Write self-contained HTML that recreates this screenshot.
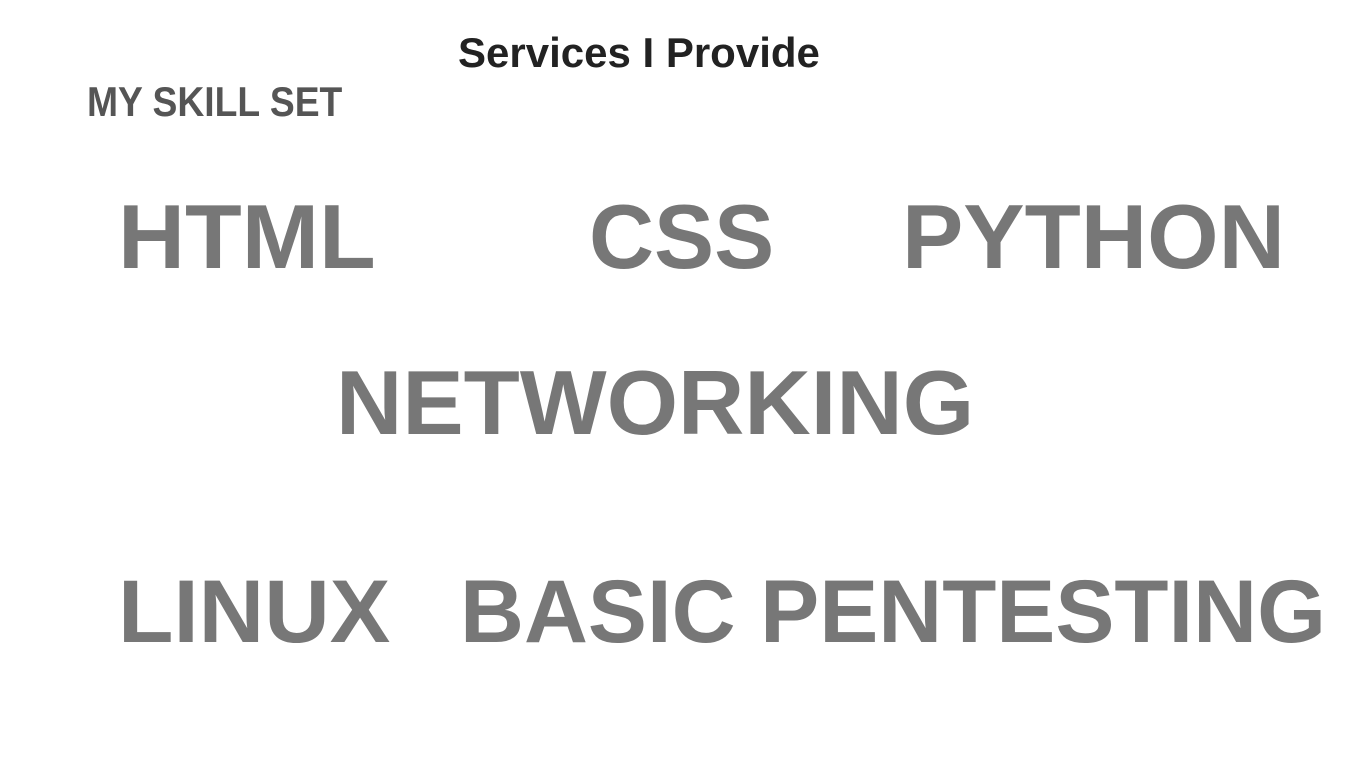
<!DOCTYPE html>
<html><head><meta charset="utf-8"><style>
html,body{margin:0;padding:0;background:#fff;width:1366px;height:768px;overflow:hidden;position:relative}
.t{position:absolute;font-family:"Liberation Sans",Arial,sans-serif;font-weight:bold;line-height:1;white-space:nowrap;transform-origin:0 0;color:#777}
</style></head><body>
<div class="t" style="left:458px;top:32px;font-size:42px;color:#222;transform:scaleX(1.0)">Services I Provide</div>
<div class="t" style="left:87px;top:81px;font-size:42px;color:#555;transform:scaleX(0.887)">MY SKILL SET</div>
<div class="t" style="left:118px;top:192px;font-size:91px;transform:scaleX(1.02)">HTML</div>
<div class="t" style="left:589px;top:192px;font-size:91px;transform:scaleX(0.99)">CSS</div>
<div class="t" style="left:902px;top:192px;font-size:91px;transform:scaleX(1.01)">PYTHON</div>
<div class="t" style="left:336px;top:358px;font-size:91px;transform:scaleX(1.01)">NETWORKING</div>
<div class="t" style="left:118px;top:567px;font-size:89px;transform:scaleX(1.02)">LINUX</div>
<div class="t" style="left:460px;top:567px;font-size:89px;transform:scaleX(0.995)">BASIC PENTESTING</div>
</body></html>
